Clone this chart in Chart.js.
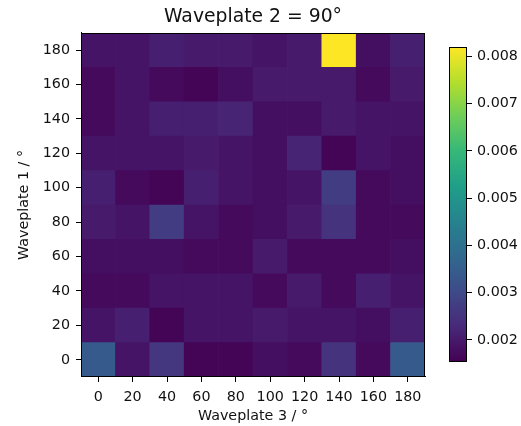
<!DOCTYPE html>
<html>
<head>
<meta charset="utf-8">
<script src="https://cdn.jsdelivr.net/npm/chart.js@4"></script>
<style>
  body { margin: 0; background: #fff; }
  #wrap { position: relative; width: 521px; height: 426px; }
  #heat { position: absolute; left: 0; top: 0; }
  #cbar { position: absolute; left: 440px; top: 0; }
</style>
</head>
<body>
<div id="wrap">
  <canvas id="heat" width="506" height="426"></canvas>
  <canvas id="cbar" width="81" height="426"></canvas>
</div>
<script>
// waveplate 3 angles (x) and waveplate 1 angles (y)
const wp3Angles = [0, 20, 40, 60, 80, 100, 120, 140, 160, 180];
const wp1Angles = [0, 20, 40, 60, 80, 100, 120, 140, 160, 180];

// one row per waveplate 1 angle, bottom (0) to top (180)
const row0   = [0.0034, 0.0019, 0.0026, 0.0016, 0.0016, 0.0018, 0.0017, 0.0025, 0.0017, 0.0034];
const row20  = [0.0019, 0.0021, 0.0016, 0.0019, 0.0019, 0.0020, 0.0019, 0.0019, 0.0018, 0.0021];
const row40  = [0.0017, 0.0017, 0.0019, 0.0019, 0.0019, 0.0017, 0.0020, 0.0017, 0.0021, 0.0019];
const row60  = [0.0018, 0.0018, 0.0018, 0.0017, 0.0017, 0.0020, 0.0017, 0.0017, 0.0017, 0.0018];
const row80  = [0.0020, 0.0019, 0.0027, 0.0019, 0.0017, 0.0018, 0.0020, 0.0025, 0.0017, 0.0017];
const row100 = [0.0021, 0.0017, 0.0016, 0.0021, 0.0019, 0.0018, 0.0019, 0.0027, 0.0017, 0.0018];
const row120 = [0.0019, 0.0019, 0.0019, 0.0020, 0.0019, 0.0018, 0.0022, 0.0016, 0.0019, 0.0018];
const row140 = [0.0017, 0.0019, 0.0021, 0.0021, 0.0022, 0.0018, 0.0018, 0.0020, 0.0019, 0.0019];
const row160 = [0.0017, 0.0019, 0.0017, 0.0016, 0.0018, 0.0020, 0.0020, 0.0020, 0.0017, 0.0020];
const row180 = [0.0019, 0.0019, 0.0021, 0.0020, 0.0020, 0.0019, 0.0020, 0.0082, 0.0018, 0.0021];
const rows = [row0, row20, row40, row60, row80, row100, row120, row140, row160, row180];

const yTicks = [0, 20, 40, 60, 80, 100, 120, 140, 160, 180];
const cbarTicks = [0.002, 0.003, 0.004, 0.005, 0.006, 0.007, 0.008];
const vmin = 0.00153;
const vmax = 0.0082;

const viridis = ['#440154', '#482878', '#3e4a89', '#31688e', '#26828e',
                 '#1f9e89', '#35b779', '#6dcd59', '#b4de2c', '#fde725'];

function hexToRgb(h) {
    return [parseInt(h.slice(1, 3), 16), parseInt(h.slice(3, 5), 16), parseInt(h.slice(5, 7), 16)];
}

function colorFor(v) {
    let t = (v - vmin) / (vmax - vmin);
    t = Math.max(0, Math.min(1, t));
    const pos = t * (viridis.length - 1);
    const i = Math.min(Math.floor(pos), viridis.length - 2);
    const f = pos - i;
    const a = hexToRgb(viridis[i]), b = hexToRgb(viridis[i + 1]);
    const c = a.map((x, k) => Math.round(x + (b[k] - x) * f));
    return 'rgb(' + c.join(',') + ')';
}

const font = { family: 'DejaVu Sans', size: 14.3 };
const ink = '#111';

// box around the plot area
const frame = {
    id: 'frame',
    afterDraw(chart) {
        const a = chart.chartArea, ctx = chart.ctx;
        ctx.save();
        ctx.strokeStyle = '#000';
        ctx.lineWidth = 1;
        ctx.strokeRect(Math.round(a.left) + 0.5, Math.round(a.top) + 0.5,
                       Math.round(a.right - a.left) - 1, Math.round(a.bottom - a.top) - 1);
        ctx.restore();
    }
};

const datasets = rows.map((row, r) => ({
    label: 'Waveplate 1 = ' + wp1Angles[r],
    data: row.map(() => [wp1Angles[r] - 10, wp1Angles[r] + 10]),
    backgroundColor: row.map(v => colorFor(v)),
    borderWidth: 0,
    barPercentage: 1,
    categoryPercentage: 1,
    grouped: false
}));

new Chart(document.getElementById('heat').getContext('2d'), {
    type: 'bar',
    data: { labels: wp3Angles, datasets: datasets },
    plugins: [frame],
    options: {
        responsive: false,
        animation: false,
        layout: { padding: 0 },
        scales: {
            x: {
                offset: true,
                grid: { offset: false, drawOnChartArea: false, color: '#000', tickLength: 5 },
                border: { color: '#000' },
                ticks: { color: ink, font: font, padding: 7, maxRotation: 0, autoSkip: false },
                title: { display: true, text: 'Waveplate 3 / °', color: ink, font: font, padding: { top: 0, bottom: 1 } },
                afterFit(scale) { scale.height = 49; }
            },
            y: {
                min: -10,
                max: 190,
                afterBuildTicks(scale) { scale.ticks = yTicks.map(v => ({ value: v })); },
                grid: { drawOnChartArea: false, color: '#000', tickLength: 5 },
                border: { color: '#000' },
                ticks: { color: ink, font: font, padding: 6 },
                title: { display: true, text: 'Waveplate 1 / °', color: ink, font: font, padding: { top: 16, bottom: 0 } },
                afterFit(scale) { scale.width = 81; }
            },
            // empty strip on the right where the colour bar sits
            side: {
                position: 'right',
                grid: { display: false },
                border: { display: false },
                ticks: { display: false },
                afterFit(scale) { scale.width = 81; }
            }
        },
        plugins: {
            legend: { display: false },
            tooltip: { enabled: false },
            title: {
                display: true,
                text: 'Waveplate 2 = 90°',
                color: ink,
                font: { family: 'DejaVu Sans', size: 18.8, weight: 'normal' },
                padding: { top: 6, bottom: 4.4 }
            }
        }
    }
});

// colour bar
new Chart(document.getElementById('cbar').getContext('2d'), {
    type: 'bar',
    data: {
        labels: [''],
        datasets: [{
            data: [[vmin, vmax]],
            backgroundColor(context) {
                const a = context.chart.chartArea;
                if (!a) return viridis[0];
                const g = context.chart.ctx.createLinearGradient(0, a.bottom, 0, a.top);
                viridis.forEach((c, i) => g.addColorStop(i / (viridis.length - 1), c));
                return g;
            },
            borderWidth: 0,
            barPercentage: 1,
            categoryPercentage: 1
        }]
    },
    plugins: [frame],
    options: {
        responsive: false,
        animation: false,
        layout: { padding: { left: 9, right: 0, top: 47, bottom: 64 } },
        scales: {
            x: { display: false },
            y: {
                position: 'right',
                min: vmin,
                max: vmax,
                afterBuildTicks(scale) { scale.ticks = cbarTicks.map(v => ({ value: v })); },
                grid: { drawOnChartArea: false, color: '#000', tickLength: 5 },
                border: { display: false },
                ticks: { color: ink, font: font, padding: 5, callback: v => v.toFixed(3) },
                afterFit(scale) { scale.width = 54; }
            }
        },
        plugins: { legend: { display: false }, tooltip: { enabled: false } }
    }
});
</script>
</body>
</html>
